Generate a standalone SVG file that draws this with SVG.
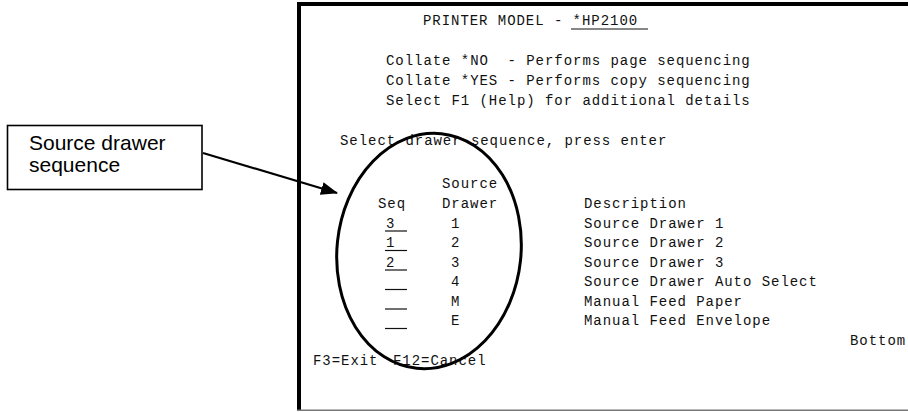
<svg xmlns="http://www.w3.org/2000/svg" width="908" height="412" viewBox="0 0 908 412">
  <style>
    .scr { font-family: "Liberation Mono", "DejaVu Sans Mono", monospace; font-size: 14px; letter-spacing: 0.95px; fill: #111; }
    .lbl { font-family: "Liberation Sans", Arial, sans-serif; font-size: 21px; fill: #000; }
    .fld { stroke: #111; stroke-width: 1.2; }
  </style>
  <defs>
    <marker id="arrow" markerWidth="17" markerHeight="13" refX="16" refY="6.5" orient="auto" markerUnits="userSpaceOnUse">
      <path d="M0,0 L17,6.5 L0,13 Z" fill="#000"/>
    </marker>
  </defs>

  <rect width="908" height="412" fill="#fff"/>

  <!-- terminal screen frame and contents -->
  <g id="screen">
    <rect x="297" y="2" width="611" height="4" fill="#000"/>
    <rect x="297" y="2" width="4" height="409" fill="#000"/>
    <rect x="297" y="409.5" width="611" height="1.5" fill="#777"/>

    <text class="scr" x="423" y="25">PRINTER MODEL - *HP2100</text>
    <line class="fld" x1="571" y1="29" x2="648" y2="29"/>

    <text class="scr" x="386" y="65" xml:space="preserve">Collate *NO  - Performs page sequencing</text>
    <text class="scr" x="386" y="85">Collate *YES - Performs copy sequencing</text>
    <text class="scr" x="386" y="105">Select F1 (Help) for additional details</text>

    <text class="scr" x="340" y="145">Select drawer sequence, press enter</text>

    <text class="scr" x="442" y="188">Source</text>
    <text class="scr" x="378" y="208">Seq</text>
    <text class="scr" x="442" y="208">Drawer</text>
    <text class="scr" x="584" y="208">Description</text>

    <!-- sequence entry fields -->
    <text class="scr" x="386" y="227.5">3</text>
    <text class="scr" x="386" y="247">1</text>
    <text class="scr" x="386" y="266.5">2</text>
    <line class="fld" x1="385" y1="231" x2="407" y2="231"/>
    <line class="fld" x1="385" y1="250.5" x2="407" y2="250.5"/>
    <line class="fld" x1="385" y1="270" x2="407" y2="270"/>
    <line class="fld" x1="385" y1="289.5" x2="407" y2="289.5"/>
    <line class="fld" x1="385" y1="309" x2="407" y2="309"/>
    <line class="fld" x1="385" y1="328.5" x2="407" y2="328.5"/>

    <text class="scr" x="451" y="227.5">1</text>
    <text class="scr" x="451" y="247">2</text>
    <text class="scr" x="451" y="266.5">3</text>
    <text class="scr" x="451" y="286">4</text>
    <text class="scr" x="451" y="305.5">M</text>
    <text class="scr" x="451" y="325">E</text>

    <text class="scr" x="584" y="227.5">Source Drawer 1</text>
    <text class="scr" x="584" y="247">Source Drawer 2</text>
    <text class="scr" x="584" y="266.5">Source Drawer 3</text>
    <text class="scr" x="584" y="286">Source Drawer Auto Select</text>
    <text class="scr" x="584" y="305.5">Manual Feed Paper</text>
    <text class="scr" x="584" y="325">Manual Feed Envelope</text>

    <text class="scr" x="850" y="345">Bottom</text>
    <text class="scr" x="313" y="365">F3=Exit</text>
    <text class="scr" x="393" y="365">F12=Cancel</text>
  </g>

  <!-- callout label -->
  <g id="callout">
    <rect x="7.5" y="125.5" width="194.5" height="64" fill="#fff" stroke="#000" stroke-width="1.6"/>
    <text class="lbl" x="29" y="150">Source drawer</text>
    <text class="lbl" x="29" y="172">sequence</text>
  </g>

  <!-- highlight ring and pointer -->
  <g id="connectors" fill="none" stroke="#000">
    <ellipse cx="429" cy="251" rx="92" ry="118" stroke-width="3" transform="rotate(6 429 251)"/>
    <line x1="203" y1="153" x2="337" y2="193" stroke-width="2.2" marker-end="url(#arrow)"/>
  </g>
</svg>
